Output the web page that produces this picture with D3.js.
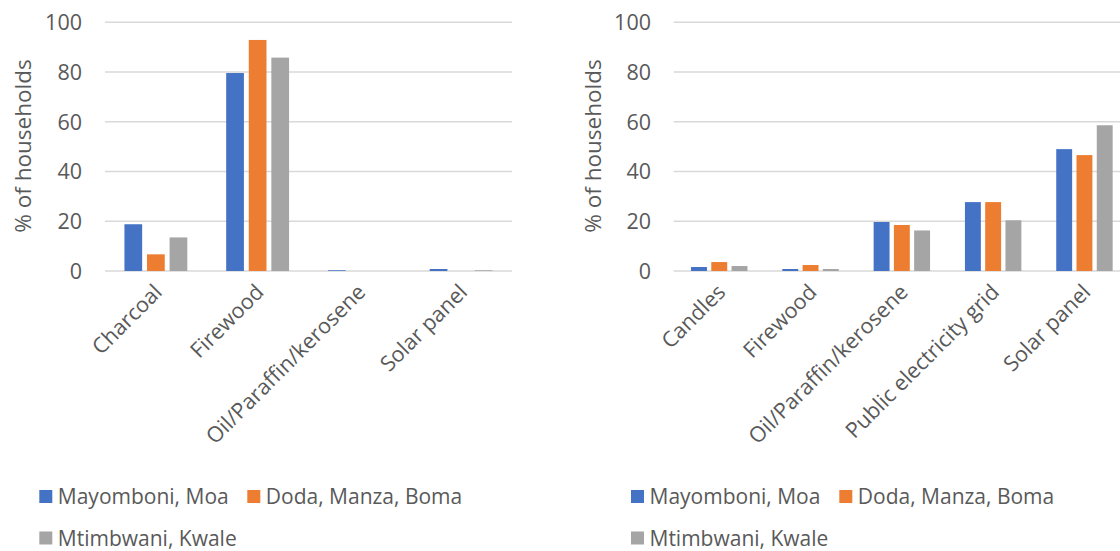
<!DOCTYPE html>
<html>
<head>
<meta charset="utf-8">
<script src="https://cdn.jsdelivr.net/npm/d3@7"></script>
<style>
  html, body { margin: 0; padding: 0; background: #fff; }
  svg { display: block; }
  text { font-family: "Open Sans", "Noto Sans", sans-serif; fill: #595959; }
</style>
</head>
<body>
<svg id="chart" width="1120" height="551"></svg>
<script>
// Household energy sources by village cluster (% of households)
const seriesNames = ["Mayomboni, Moa", "Doda, Manza, Boma", "Mtimbwani, Kwale"];
const seriesColors = ["#4472C4", "#ED7D31", "#A5A5A5"];
const yTicks = [0, 20, 40, 60, 80, 100];

// Left panel: cooking fuel
const cookingCategories = ["Charcoal", "Firewood", "Oil/Paraffin/kerosene", "Solar panel"];
const cookingMayomboni = [18.8, 79.6, 0.3, 0.8];
const cookingDoda = [6.7, 92.9, 0, 0];
const cookingMtimbwani = [13.5, 85.8, 0, 0.3];

// Right panel: lighting source
const lightingCategories = ["Candles", "Firewood", "Oil/Paraffin/kerosene", "Public electricity grid", "Solar panel"];
const lightingMayomboni = [1.6, 0.8, 19.7, 27.7, 49.0];
const lightingDoda = [3.6, 2.4, 18.5, 27.7, 46.6];
const lightingMtimbwani = [2.0, 0.8, 16.3, 20.4, 58.6];

const svg = d3.select("#chart");

function panel(opts) {
  const { categories, values, x0Range, tickRight, titleX, legendX, legendX2 } = opts;
  const g = svg.append("g");

  const y = d3.scaleLinear().domain([0, 100]).range([271, 22.3]);

  const x0 = d3.scaleBand()
    .domain(categories)
    .range(x0Range)
    .paddingInner(0.382)
    .paddingOuter(0.191);

  const x1 = d3.scaleBand()
    .domain(seriesNames)
    .range([0, x0.bandwidth()])
    .paddingInner(0.215)
    .paddingOuter(0);

  // gridlines
  g.append("g")
    .selectAll("line")
    .data(yTicks)
    .join("line")
    .attr("x1", x0Range[0])
    .attr("x2", x0Range[1])
    .attr("y1", d => y(d))
    .attr("y2", d => y(d))
    .attr("stroke", "#d9d9d9")
    .attr("stroke-width", 1.5);

  // tick labels
  g.append("g")
    .selectAll("text")
    .data(yTicks)
    .join("text")
    .attr("x", tickRight)
    .attr("y", d => y(d))
    .attr("dy", "0.36em")
    .attr("text-anchor", "end")
    .style("font-size", "21.5px")
    .text(d => d);

  // axis title
  g.append("text")
    .attr("transform", `translate(${titleX},146) rotate(-90)`)
    .attr("text-anchor", "middle")
    .attr("dy", "0.36em")
    .style("font-size", "22.5px")
    .text("% of households");

  // bars
  const groups = g.append("g")
    .selectAll("g")
    .data(categories.map((c, i) => ({ c, vals: values.map(s => s[i]) })))
    .join("g")
    .attr("transform", d => `translate(${x0(d.c)},0)`);

  groups.selectAll("rect")
    .data(d => d.vals.map((v, k) => ({ v, k })))
    .join("rect")
    .attr("x", d => x1(seriesNames[d.k]))
    .attr("width", x1.bandwidth())
    .attr("y", d => y(d.v))
    .attr("height", d => y(0) - y(d.v))
    .attr("fill", d => seriesColors[d.k]);

  // category labels, rotated
  g.append("g")
    .selectAll("text")
    .data(categories)
    .join("text")
    .attr("transform", c => `translate(${x0(c) + x0.bandwidth() / 2 + 2},${288}) rotate(-45)`)
    .attr("text-anchor", "end")
    .attr("dy", "0.36em")
    .style("font-size", "21.5px")
    .text(c => c);

  // legend
  const legendPos = [
    { x: legendX, y: 496.5 },
    { x: legendX2, y: 496.5 },
    { x: legendX, y: 538 }
  ];
  const leg = g.append("g")
    .selectAll("g")
    .data(seriesNames)
    .join("g")
    .attr("transform", (d, i) => `translate(${legendPos[i].x},${legendPos[i].y})`);
  leg.append("rect")
    .attr("x", 0).attr("y", -6.5)
    .attr("width", 13).attr("height", 13)
    .attr("fill", (d, i) => seriesColors[i]);
  leg.append("text")
    .attr("x", 18.5)
    .attr("dy", "0.36em")
    .style("font-size", "21px")
    .text(d => d);
}

panel({
  categories: cookingCategories,
  values: [cookingMayomboni, cookingDoda, cookingMtimbwani],
  x0Range: [105, 512],
  tickRight: 82,
  titleX: 22.7,
  legendX: 39.3,
  legendX2: 247.3
});

panel({
  categories: lightingCategories,
  values: [lightingMayomboni, lightingDoda, lightingMtimbwani],
  x0Range: [673.6, 1130.1],
  tickRight: 651,
  titleX: 592.7,
  legendX: 631,
  legendX2: 839.3
});
</script>
</body>
</html>
